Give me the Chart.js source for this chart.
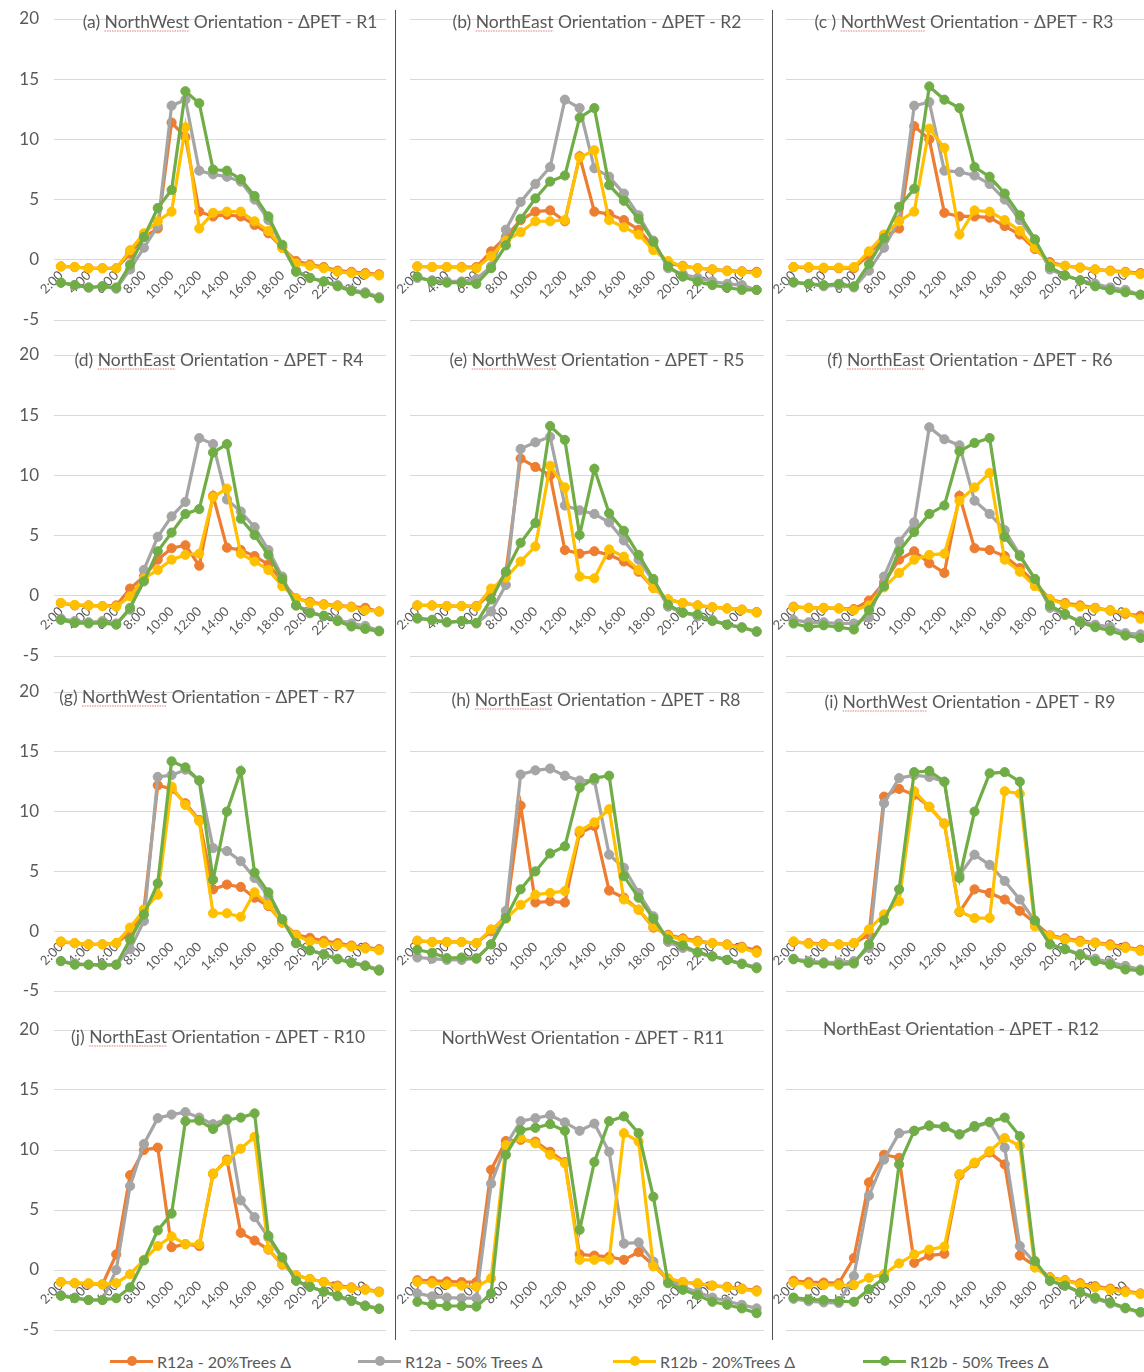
<!DOCTYPE html>
<html>
<head>
<meta charset="utf-8">
<script src="https://cdn.jsdelivr.net/npm/chart.js@4.4.1/dist/chart.umd.min.js"></script>
<style>
  html, body { margin: 0; padding: 0; background: #fff; }
  #fig { position: relative; width: 1144px; height: 1372px; overflow: hidden; background: #fff; }
  .panel { position: absolute; }
  .panel canvas { display: block; }
  .sep { position: absolute; width: 1px; background: #505050; }
  .legend-item { position: absolute; height: 22px; display: flex; align-items: center;
                 font-family: Lato, "Open Sans", sans-serif; font-size: 16px; color: #595959; white-space: nowrap; }
  .swatch { position: relative; width: 43px; height: 22px; margin-right: 4px; }
  .swatch .ln { position: absolute; left: 0; right: 0; top: 9.5px; height: 3px; }
  .swatch .dot { position: absolute; left: 17px; top: 6px; width: 10px; height: 10px; border-radius: 50%; }
</style>
</head>
<body>
<div id="fig"></div>
<script>
// Hourly categories, 2:00 through 1:00 of the next day
const hours = ['2:00','3:00','4:00','5:00','6:00','7:00','8:00','9:00','10:00','11:00','12:00','13:00',
               '14:00','15:00','16:00','17:00','18:00','19:00','20:00','21:00','22:00','23:00','0:00','1:00'];
const yTicks = [-5, 0, 5, 10, 15, 20];
const seriesNames = ['R12a - 20%Trees Δ', 'R12a - 50% Trees Δ', 'R12b - 20%Trees Δ', 'R12b - 50% Trees Δ'];
const seriesColors = ['#ED7D31', '#A5A5A5', '#FFC000', '#70AD47'];

// ΔPET per receptor (R1..R12), four scenarios each
const r1_a20 = [-0.55,-0.6,-0.7,-0.7,-0.7,0.5,1.9,2.6,11.4,10.2,4.0,3.6,3.75,3.6,2.9,2.2,1.0,-0.1,-0.4,-0.6,-0.9,-1.0,-1.1,-1.2];
const r1_a50 = [-1.9,-2.1,-2.3,-2.2,-2.4,-0.8,1.0,2.8,12.8,13.3,7.4,7.1,6.9,6.5,5.0,3.3,1.1,-0.9,-1.5,-1.8,-2.1,-2.5,-2.7,-3.1];
const r1_b20 = [-0.55,-0.6,-0.7,-0.7,-0.7,0.8,2.2,3.2,4.0,11.0,2.6,3.9,4.0,4.0,3.2,2.4,1.0,-0.3,-0.5,-0.7,-1.0,-1.1,-1.2,-1.3];
const r1_b50 = [-1.9,-2.1,-2.3,-2.2,-2.3,-0.4,1.9,4.3,5.8,14.0,13.0,7.5,7.4,6.7,5.3,3.6,1.25,-1.0,-1.5,-1.8,-2.2,-2.6,-2.8,-3.2];

const r2_a20 = [-0.55,-0.6,-0.6,-0.6,-0.6,0.7,1.9,3.3,4.0,4.1,3.2,8.6,4.0,3.8,3.3,2.5,1.1,-0.3,-0.5,-0.7,-0.8,-0.9,-0.95,-1.0];
const r2_a50 = [-1.5,-1.7,-1.8,-1.8,-1.6,-0.55,2.5,4.8,6.3,7.7,13.3,12.6,7.6,6.9,5.5,3.7,1.6,-0.7,-1.2,-1.5,-1.8,-2.0,-2.1,-2.5];
const r2_b20 = [-0.55,-0.6,-0.6,-0.65,-0.7,0.3,1.6,2.3,3.2,3.2,3.3,8.5,9.1,3.3,2.7,2.1,0.8,-0.1,-0.55,-0.7,-0.8,-0.95,-1.0,-1.1];
const r2_b50 = [-1.4,-1.8,-1.9,-1.9,-2.0,-0.7,1.2,3.4,5.1,6.5,7.0,11.8,12.6,6.2,4.9,3.4,1.5,-0.55,-1.4,-1.8,-2.1,-2.3,-2.5,-2.5];

const r3_a20 = [-0.6,-0.65,-0.7,-0.7,-0.7,0.4,1.9,2.6,11.1,10.0,3.9,3.6,3.6,3.5,2.8,2.1,0.9,-0.2,-0.5,-0.65,-0.8,-0.9,-1.0,-1.1];
const r3_a50 = [-1.9,-2.0,-2.2,-2.1,-2.3,-0.9,1.0,3.3,12.8,13.1,7.4,7.3,7.0,6.3,5.0,3.3,1.6,-0.8,-1.3,-1.7,-2.0,-2.3,-2.5,-2.9];
const r3_b20 = [-0.6,-0.6,-0.65,-0.65,-0.6,0.7,2.1,3.2,4.0,10.9,9.3,2.1,4.1,4.0,3.3,2.4,1.0,-0.35,-0.5,-0.65,-0.8,-0.95,-1.05,-1.2];
const r3_b50 = [-1.85,-2.0,-2.1,-2.0,-2.2,-0.35,1.8,4.4,5.9,14.4,13.3,12.6,7.7,6.9,5.5,3.7,1.7,-0.6,-1.3,-1.7,-2.2,-2.5,-2.7,-2.9];

const r4_a20 = [-0.6,-0.8,-0.8,-0.85,-0.8,0.6,1.6,3.0,3.95,4.2,2.5,8.3,4.0,3.8,3.3,2.6,1.2,-0.2,-0.5,-0.7,-0.8,-0.9,-1.0,-1.3];
const r4_a50 = [-1.9,-2.1,-2.2,-2.1,-2.3,-1.15,2.15,4.9,6.6,7.8,13.1,12.6,8.0,7.0,5.7,3.8,1.6,-0.8,-1.3,-1.7,-2.0,-2.3,-2.5,-2.9];
const r4_b20 = [-0.6,-0.75,-0.8,-0.85,-0.9,-0.05,1.45,2.15,3.0,3.4,3.5,8.2,8.9,3.5,2.85,2.15,0.8,-0.2,-0.6,-0.75,-0.85,-0.95,-1.2,-1.3];
const r4_b50 = [-2.0,-2.25,-2.3,-2.25,-2.4,-1.0,1.2,3.7,5.25,6.8,7.2,11.9,12.6,6.4,5.05,3.4,1.4,-0.8,-1.45,-1.65,-2.1,-2.55,-2.75,-2.95];

const r5_a20 = [-0.8,-0.8,-0.85,-0.85,-0.85,0.2,1.9,11.4,10.7,10.0,3.8,3.5,3.7,3.4,2.85,2.0,0.65,-0.3,-0.6,-0.8,-0.95,-1.05,-1.15,-1.35];
const r5_a50 = [-1.9,-2.0,-2.2,-2.1,-2.3,-1.3,0.9,12.2,12.75,13.2,7.5,7.1,6.8,6.1,4.6,3.0,1.2,-0.9,-1.4,-1.7,-2.0,-2.4,-2.6,-3.0];
const r5_b20 = [-0.8,-0.8,-0.85,-0.85,-0.9,0.6,1.5,2.85,4.1,10.8,9.0,1.6,1.45,3.85,3.25,2.15,0.65,-0.3,-0.6,-0.8,-0.95,-1.05,-1.15,-1.4];
const r5_b50 = [-1.85,-2.0,-2.2,-2.1,-2.25,-0.3,2.0,4.4,6.05,14.1,12.95,5.05,10.55,6.85,5.4,3.4,1.4,-0.75,-1.4,-1.55,-2.1,-2.4,-2.65,-2.95];

const r6_a20 = [-0.9,-1.0,-1.0,-1.05,-1.1,-0.4,1.1,3.0,3.7,2.7,1.9,8.3,3.95,3.8,3.3,2.3,1.1,-0.3,-0.6,-0.8,-1.0,-1.2,-1.5,-1.65];
const r6_a50 = [-2.0,-2.2,-2.2,-2.3,-2.3,-1.8,1.6,4.5,6.1,14.0,13.0,12.5,7.9,6.8,5.45,3.4,1.4,-1.0,-1.6,-2.1,-2.4,-2.6,-3.1,-3.2];
const r6_b20 = [-0.95,-1.0,-1.0,-1.05,-1.2,-0.8,0.7,1.9,3.0,3.4,3.5,7.9,9.0,10.2,3.0,2.0,0.8,-0.3,-0.7,-0.9,-1.05,-1.25,-1.4,-1.9];
const r6_b50 = [-2.3,-2.6,-2.45,-2.6,-2.8,-1.2,0.8,3.7,5.3,6.8,7.5,12.0,12.7,13.1,4.9,3.3,1.4,-0.8,-1.5,-2.2,-2.6,-2.9,-3.3,-3.5];

const r7_a20 = [-0.9,-1.0,-1.1,-1.1,-1.0,-0.15,1.8,12.2,11.9,10.7,9.3,3.5,3.9,3.7,2.8,2.1,0.75,-0.3,-0.55,-0.8,-1.0,-1.2,-1.35,-1.5];
const r7_a50 = [-2.5,-2.7,-2.8,-2.8,-2.8,-1.5,0.85,12.9,13.05,13.5,12.6,6.95,6.7,5.85,4.45,2.9,0.95,-1.0,-1.6,-1.9,-2.3,-2.6,-2.85,-3.2];
const r7_b20 = [-0.85,-1.0,-1.1,-1.1,-1.0,0.3,1.8,3.05,12.1,10.55,9.2,1.5,1.5,1.2,3.25,2.2,0.7,-0.35,-0.85,-1.0,-1.15,-1.3,-1.45,-1.6];
const r7_b50 = [-2.5,-2.8,-2.8,-2.85,-2.8,-0.7,1.4,4.0,14.2,13.7,12.6,4.3,10.0,13.4,4.9,3.25,1.0,-1.0,-1.6,-1.95,-2.35,-2.65,-2.9,-3.3];

const r8_a20 = [-0.8,-0.9,-0.9,-0.9,-1.0,0.0,1.25,10.5,2.4,2.5,2.4,8.2,8.8,3.4,2.8,1.8,0.3,-0.3,-0.6,-0.8,-1.0,-1.1,-1.3,-1.6];
const r8_a50 = [-2.2,-2.3,-2.4,-2.4,-2.25,-1.1,1.7,13.1,13.45,13.6,13.0,12.6,12.6,6.4,5.3,3.2,1.25,-0.9,-1.4,-1.8,-2.1,-2.4,-2.7,-3.0];
const r8_b20 = [-0.8,-0.9,-0.9,-0.9,-1.0,0.15,1.05,2.2,3.05,3.2,3.35,8.4,9.1,10.2,2.65,1.8,0.4,-0.4,-0.7,-0.9,-1.0,-1.15,-1.4,-1.8];
const r8_b50 = [-1.55,-1.8,-2.25,-2.2,-2.3,-1.1,1.1,3.5,5.0,6.5,7.1,12.0,12.8,13.0,4.6,2.8,1.05,-0.7,-1.2,-1.75,-2.1,-2.4,-2.75,-3.1];

const r9_a20 = [-0.9,-1.0,-1.05,-1.1,-1.0,-0.3,11.25,11.9,11.4,10.4,9.0,1.6,3.5,3.2,2.65,1.7,0.7,-0.35,-0.6,-0.8,-0.95,-1.1,-1.3,-1.55];
const r9_a50 = [-2.3,-2.5,-2.6,-2.6,-2.5,-1.4,10.7,12.8,13.05,12.9,12.5,4.7,6.4,5.55,4.2,2.65,0.85,-1.1,-1.5,-1.9,-2.3,-2.6,-2.9,-3.2];
const r9_b20 = [-0.85,-1.05,-1.1,-1.1,-1.0,0.15,1.4,2.5,11.7,10.4,9.0,1.65,1.1,1.1,11.7,11.5,0.4,-0.4,-0.7,-0.9,-1.0,-1.2,-1.4,-1.65];
const r9_b50 = [-2.35,-2.65,-2.7,-2.8,-2.7,-1.1,0.9,3.5,13.3,13.4,12.5,4.45,10.0,13.2,13.3,12.5,0.9,-1.1,-1.5,-2.0,-2.5,-2.8,-3.2,-3.3];

const r10_a20 = [-1.0,-1.1,-1.15,-1.2,1.3,7.9,10.0,10.2,1.9,2.15,2.0,8.0,9.2,3.1,2.45,1.7,0.45,-0.45,-0.75,-1.0,-1.3,-1.45,-1.6,-1.8];
const r10_a50 = [-2.1,-2.3,-2.5,-2.5,0.0,7.0,10.5,12.65,12.95,13.15,12.7,12.15,12.6,5.8,4.4,2.7,0.9,-0.9,-1.4,-1.8,-2.2,-2.6,-2.95,-3.2];
const r10_b20 = [-1.0,-1.1,-1.1,-1.2,-1.1,-0.35,0.85,2.0,2.8,2.15,2.15,8.05,9.1,10.1,11.1,1.75,0.5,-0.45,-0.75,-1.0,-1.4,-1.5,-1.65,-1.85];
const r10_b50 = [-2.15,-2.35,-2.5,-2.5,-2.35,-1.45,0.8,3.3,4.7,12.4,12.45,11.75,12.5,12.7,13.05,2.85,1.05,-0.9,-1.4,-1.8,-2.15,-2.55,-3.0,-3.25];

const r11_a20 = [-0.85,-0.9,-0.95,-1.0,-1.0,8.35,10.75,10.85,10.7,9.85,9.0,1.3,1.2,1.1,0.85,1.5,0.4,-0.85,-1.0,-1.15,-1.3,-1.4,-1.55,-1.7];
const r11_a50 = [-1.95,-2.2,-2.3,-2.35,-2.35,7.2,10.4,12.4,12.65,12.9,12.3,11.6,12.2,9.85,2.2,2.3,0.7,-0.9,-1.4,-1.85,-2.3,-2.6,-2.9,-3.2];
const r11_b20 = [-1.0,-1.1,-1.2,-1.3,-1.4,-0.7,10.4,11.0,10.55,9.6,8.9,0.85,0.85,0.85,11.4,10.7,0.3,-0.7,-1.0,-1.1,-1.3,-1.45,-1.6,-1.8];
const r11_b50 = [-2.65,-2.9,-3.0,-3.0,-3.05,-1.95,9.6,11.65,11.85,12.15,11.6,3.35,9.0,12.4,12.8,11.4,6.1,-1.1,-1.65,-2.1,-2.65,-2.9,-3.2,-3.6];

const r12_a20 = [-0.9,-1.0,-1.05,-1.1,1.0,7.3,9.6,9.35,0.6,1.2,1.35,7.9,8.9,9.8,8.8,1.2,0.35,-0.6,-0.85,-1.1,-1.35,-1.55,-1.75,-1.95];
const r12_a50 = [-2.4,-2.6,-2.7,-2.75,-0.5,6.2,9.2,11.4,11.6,12.0,11.9,11.3,11.9,12.3,10.2,2.0,0.6,-0.9,-1.3,-1.9,-2.4,-2.8,-3.2,-3.55];
const r12_b20 = [-1.05,-1.2,-1.25,-1.25,-1.25,-0.65,-0.35,0.55,1.3,1.7,1.95,8.0,8.95,9.9,11.0,10.35,0.2,-0.65,-0.9,-1.2,-1.45,-1.65,-1.85,-2.0];
const r12_b50 = [-2.3,-2.45,-2.5,-2.6,-2.65,-1.6,-0.7,8.8,11.6,12.05,11.95,11.3,12.0,12.35,12.7,11.15,0.75,-0.9,-1.3,-1.85,-2.3,-2.7,-3.15,-3.5];

const panelTitles = [
  '(a) NorthWest Orientation - ΔPET - R1', '(b) NorthEast Orientation - ΔPET - R2', '(c ) NorthWest Orientation - ΔPET - R3',
  '(d) NorthEast Orientation - ΔPET - R4', '(e) NorthWest Orientation - ΔPET - R5', '(f) NorthEast Orientation - ΔPET - R6',
  '(g) NorthWest Orientation - ΔPET - R7', '(h) NorthEast Orientation - ΔPET - R8', '(i) NorthWest Orientation - ΔPET - R9',
  '(j) NorthEast Orientation - ΔPET - R10', 'NorthWest Orientation - ΔPET - R11', 'NorthEast Orientation - ΔPET - R12'
];
const panelSeries = [
  [r1_a20, r1_a50, r1_b20, r1_b50], [r2_a20, r2_a50, r2_b20, r2_b50], [r3_a20, r3_a50, r3_b20, r3_b50],
  [r4_a20, r4_a50, r4_b20, r4_b50], [r5_a20, r5_a50, r5_b20, r5_b50], [r6_a20, r6_a50, r6_b20, r6_b50],
  [r7_a20, r7_a50, r7_b20, r7_b50], [r8_a20, r8_a50, r8_b20, r8_b50], [r9_a20, r9_a50, r9_b20, r9_b50],
  [r10_a20, r10_a50, r10_b20, r10_b50], [r11_a20, r11_a50, r11_b20, r11_b50], [r12_a20, r12_a50, r12_b20, r12_b50]
];

// Page layout: plot-area edges of each column / row, and title centres
const columns = [
  { canvasLeft: 0,   plotLeft: 54,  plotRight: 386 },
  { canvasLeft: 394, plotLeft: 410, plotRight: 764 },
  { canvasLeft: 770, plotLeft: 786, plotRight: 1148 }
];
const rows = [
  { top: 19,   bottom: 320 },
  { top: 355,  bottom: 656 },
  { top: 692,  bottom: 991 },
  { top: 1030, bottom: 1330 }
];
const titleCentres = [
  [230, 22], [597, 22], [964, 22],
  [219, 360], [597, 360], [970, 360],
  [207, 697], [596, 700], [970, 702],
  [218, 1037], [583, 1038], [961, 1029]
];
const PAD_TOP = 22, PAD_BOTTOM = 6;
const FONT = 'Lato, "Open Sans", sans-serif';
const TEXT_GREY = '#595959';

// Panel title drawn over the top gridline, with the proofing underline under the orientation word
const panelTitlePlugin = {
  id: 'panelTitle',
  afterDraw(chart, args, opts) {
    const ctx = chart.ctx;
    ctx.save();
    ctx.font = '17.5px ' + FONT;
    ctx.fillStyle = TEXT_GREY;
    ctx.textAlign = 'left';
    ctx.textBaseline = 'middle';
    const full = ctx.measureText(opts.text).width;
    const x0 = opts.x - full / 2;
    ctx.fillText(opts.text, x0, opts.y);
    const m = opts.text.match(/North(West|East)/);
    if (m && opts.text.startsWith('(')) {
      const pre = ctx.measureText(opts.text.slice(0, m.index)).width;
      const w = ctx.measureText(m[0]).width;
      ctx.strokeStyle = 'rgba(214, 80, 80, 0.75)';
      ctx.lineWidth = 1;
      ctx.setLineDash([1.5, 1]);
      ctx.beginPath();
      ctx.moveTo(x0 + pre, opts.y + 9);
      ctx.lineTo(x0 + pre + w, opts.y + 9);
      ctx.stroke();
    }
    ctx.restore();
  }
};

const fig = document.getElementById('fig');

function buildPanel(index) {
  const col = columns[index % 3];
  const row = rows[Math.floor(index / 3)];
  const showY = index % 3 === 0;
  const yAxisWidth = col.plotLeft - col.canvasLeft;
  const width = col.plotRight - col.canvasLeft;
  const height = (row.bottom - row.top) + PAD_TOP + PAD_BOTTOM;
  const canvasTop = row.top - PAD_TOP;

  const wrap = document.createElement('div');
  wrap.className = 'panel';
  wrap.style.left = col.canvasLeft + 'px';
  wrap.style.top = canvasTop + 'px';
  wrap.style.width = width + 'px';
  wrap.style.height = height + 'px';
  const canvas = document.createElement('canvas');
  canvas.width = width;
  canvas.height = height;
  canvas.style.width = width + 'px';
  canvas.style.height = height + 'px';
  wrap.appendChild(canvas);
  fig.appendChild(wrap);

  const datasets = panelSeries[index].map((values, s) => ({
    label: seriesNames[s],
    data: values,
    borderColor: seriesColors[s],
    backgroundColor: seriesColors[s],
    pointBackgroundColor: seriesColors[s],
    pointBorderColor: seriesColors[s],
    borderWidth: 3.2,
    pointRadius: 4.6,
    pointBorderWidth: 1,
    tension: 0,
    order: 4 - s
  }));

  const [tx, ty] = titleCentres[index];

  new Chart(canvas, {
    type: 'line',
    data: { labels: hours, datasets },
    plugins: [panelTitlePlugin],
    options: {
      responsive: false,
      maintainAspectRatio: false,
      devicePixelRatio: 1,
      animation: false,
      events: [],
      layout: { autoPadding: false, padding: { top: PAD_TOP, bottom: PAD_BOTTOM, left: 0, right: 0 } },
      plugins: {
        legend: { display: false },
        tooltip: { enabled: false },
        panelTitle: { text: panelTitles[index], x: tx - col.canvasLeft, y: ty - canvasTop }
      },
      scales: {
        x: {
          type: 'category',
          position: { y: 0 },
          offset: true,
          // the category axis sits on the zero line and must not shrink the plot area
          afterFit: (scale) => {
            scale.height = 0;
            scale.paddingLeft = 0; scale.paddingRight = 0;
            scale.paddingTop = 0; scale.paddingBottom = 0;
          },
          grid: { display: false },
          border: { display: false },
          ticks: {
            autoSkip: false,
            minRotation: 45,
            maxRotation: 45,
            padding: 0,
            color: TEXT_GREY,
            font: { family: FONT, size: 13 },
            callback: (v, i) => (i % 2 === 0 ? hours[i] : '')
          }
        },
        y: {
          min: yTicks[0],
          max: yTicks[yTicks.length - 1],
          afterBuildTicks: (scale) => { scale.ticks = yTicks.map(v => ({ value: v })); },
          afterFit: (scale) => {
            scale.width = yAxisWidth;
            scale.paddingTop = 0; scale.paddingBottom = 0;
            scale.paddingLeft = 0; scale.paddingRight = 0;
          },
          grid: { color: '#D9D9D9', lineWidth: 1, drawTicks: false },
          border: { display: false },
          ticks: {
            display: showY,
            padding: 15,
            color: TEXT_GREY,
            font: { family: FONT, size: 17 }
          }
        }
      }
    }
  });
}

function buildSeparators() {
  [395, 772].forEach(x => {
    const d = document.createElement('div');
    d.className = 'sep';
    d.style.left = x + 'px';
    d.style.top = '10px';
    d.style.height = '1330px';
    fig.appendChild(d);
  });
}

function buildLegend() {
  const lefts = [110, 358, 613, 863];
  seriesNames.forEach((name, s) => {
    const item = document.createElement('div');
    item.className = 'legend-item';
    item.style.left = lefts[s] + 'px';
    item.style.top = '1350px';
    const sw = document.createElement('div');
    sw.className = 'swatch';
    const ln = document.createElement('div');
    ln.className = 'ln';
    ln.style.background = seriesColors[s];
    const dot = document.createElement('div');
    dot.className = 'dot';
    dot.style.background = seriesColors[s];
    sw.appendChild(ln);
    sw.appendChild(dot);
    const label = document.createElement('span');
    label.textContent = name;
    item.appendChild(sw);
    item.appendChild(label);
    fig.appendChild(item);
  });
}

function buildAll() {
  for (let i = 0; i < 12; i++) buildPanel(i);
  buildSeparators();
  buildLegend();
}

Chart.defaults.font.family = FONT;
(document.fonts && document.fonts.load ? document.fonts.load('16px Lato') : Promise.resolve())
  .catch(() => {})
  .then(buildAll);
</script>
</body>
</html>
